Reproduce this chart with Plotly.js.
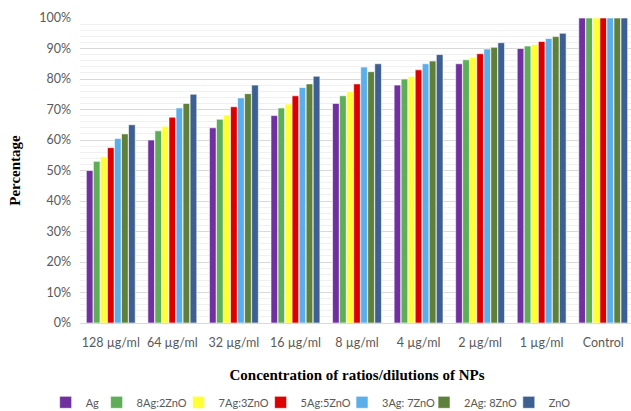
<!DOCTYPE html>
<html><head><meta charset="utf-8">
<script src="https://cdn.plot.ly/plotly-3.0.1.min.js"></script>
<style>html,body{margin:0;padding:0;overflow:hidden;background:#fff}#c{width:634px;height:411px}</style>
</head><body><div id="c"></div>
<script>
const categories = ["128 µg/ml","64 µg/ml","32 µg/ml","16 µg/ml","8 µg/ml","4 µg/ml","2 µg/ml","1 µg/ml","Control"];
const seriesNames = ["Ag","8Ag:2ZnO","7Ag:3ZnO","5Ag:5ZnO","3Ag: 7ZnO","2Ag: 8ZnO","ZnO"];
const Ag       = [50, 60, 64, 68, 72, 78, 85, 90, 100];
const Ag8ZnO2  = [53, 63, 66.8, 70.5, 74.5, 80, 86.3, 90.8, 100];
const Ag7ZnO3  = [54.5, 64.5, 68.2, 71.8, 75.8, 80.8, 87.1, 91.3, 100];
const Ag5ZnO5  = [57.5, 67.5, 70.9, 74.5, 78.4, 83, 88.3, 92.3, 100];
const Ag3ZnO7  = [60.5, 70.5, 73.8, 77.2, 83.9, 85, 89.8, 93.3, 100];
const Ag2ZnO8  = [62, 72, 75.2, 78.4, 82.4, 85.9, 90.4, 93.9, 100];
const ZnO      = [65, 75, 78, 80.9, 85, 88, 91.9, 95, 100];
const seriesValues = [Ag, Ag8ZnO2, Ag7ZnO3, Ag5ZnO5, Ag3ZnO7, Ag2ZnO8, ZnO];
const colors = ["#7030A0","#5DAE57","#FFFF33","#DD0000","#5AAEEA","#5F803A","#3D5F91"];
const legendX = [-0.062, 0.030, 0.178, 0.326, 0.473, 0.621, 0.774];

const legendId = i => i === 0 ? 'legend' : 'legend' + (i + 1);

const traces = seriesNames.map((n,i)=>({
  type:'bar', name:n, x:categories, y:seriesValues[i], legend:legendId(i),
  marker:{color:colors[i], line:{color:'#ffffff', width:0.6}}
}));

const layout = {
  width:634, height:411,
  margin:{l:80, r:0, t:18, b:88, autoexpand:false},
  paper_bgcolor:'#fff', plot_bgcolor:'#fff',
  barmode:'group', bargap:0.2, bargroupgap:0.05,
  font:{family:'Lato, "Open Sans", sans-serif', size:12, color:'#595959'},
  xaxis:{
    tickfont:{size:12.5, color:'#595959'},
    showline:true, linecolor:'#d9d9d9', ticks:'', ticklabelstandoff:8,
    title:{text:'<b>Concentration of ratios/dilutions of NPs</b>', font:{family:'"Liberation Serif", serif', size:15, color:'#000'}, standoff:20}
  },
  yaxis:{
    range:[0,100], dtick:10, ticksuffix:'%',
    tickfont:{size:12.5, color:'#595959'}, ticklabelstandoff:8,
    showgrid:true, gridcolor:'#d9d9d9', gridwidth:1,
    minor:{dtick:2, showgrid:true, gridcolor:'#f0f0f0', gridwidth:1},
    zeroline:false, showline:false, ticks:'',
    title:{text:'<b>Percentage</b>', font:{family:'"Liberation Serif", serif', size:15, color:'#000'}, standoff:14}
  },
  showlegend:true
};
seriesNames.forEach((n,i)=>{
  layout[legendId(i)] = {orientation:'h', x:legendX[i], xanchor:'left', y:-0.26, yanchor:'middle',
    bgcolor:'rgba(0,0,0,0)', font:{size:11, color:'#595959'}, itemwidth:30};
});
Plotly.newPlot('c', traces, layout, {displayModeBar:false, staticPlot:true});
</script></body></html>
